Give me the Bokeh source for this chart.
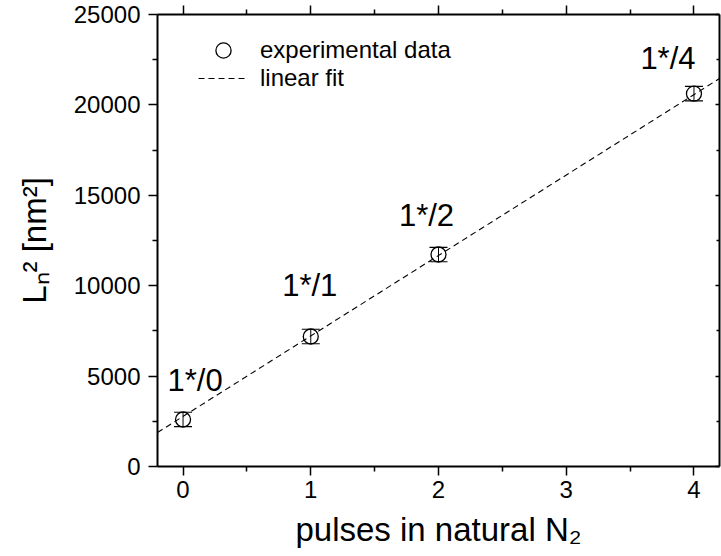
from bokeh.plotting import figure
from bokeh.models import (Range1d, LinearAxis, Whisker, ColumnDataSource, Label,
                          Legend, LegendItem, FixedTicker, TeeHead, CustomJSTickFormatter)
from bokeh.embed import file_html
from bokeh.resources import INLINE

# ---- data ----
pulses = [0, 1, 2, 4]
ln2 = [2600, 7190, 11725, 20620]
ln2_err = [400, 400, 400, 400]
point_labels = ["1*/0", "1*/1", "1*/2", "1*/4"]
fit_x = [-0.2, 4.2]
fit_y = [1880, 21460]
x_ticks = [0, 1, 2, 3, 4]
x_minor = [0.5, 1.5, 2.5, 3.5]
y_ticks = [0, 5000, 10000, 15000, 20000, 25000]
y_minor = [2500, 7500, 12500, 17500, 22500]
x_title = "pulses in natural N\u2082"
y_title = "L\u2099\u00b2 [nm\u00b2]"

FONT = "Liberation Sans"

p = figure(width=721, height=556, x_range=Range1d(-0.2, 4.2), y_range=Range1d(0, 25000),
           output_backend="svg", toolbar_location=None, x_axis_location=None, y_axis_location=None,
           min_border_left=157, min_border_right=2, min_border_top=14, min_border_bottom=90)
p.outline_line_color = None
p.xgrid.visible = False
p.ygrid.visible = False
p.background_fill_color = "white"
p.border_fill_color = "white"

xt = FixedTicker(ticks=x_ticks, minor_ticks=x_minor)
yt = FixedTicker(ticks=y_ticks, minor_ticks=y_minor)

def style(ax, labels=True, inward=False):
    ax.axis_line_width = 2
    ax.axis_line_color = "black"
    ax.major_tick_line_width = 1.5
    ax.minor_tick_line_width = 1.5
    ax.major_tick_line_color = "black"
    ax.minor_tick_line_color = "black"
    if inward:
        ax.major_tick_in, ax.major_tick_out = 4, 0
        ax.minor_tick_in, ax.minor_tick_out = 3, 0
    else:
        ax.major_tick_in, ax.major_tick_out = 0, 9
        ax.minor_tick_in, ax.minor_tick_out = 0, 5
    if labels:
        ax.major_label_text_font = FONT
        ax.major_label_text_font_size = "24px"
        ax.major_label_text_color = "black"
        ax.axis_label_text_font = FONT
        ax.axis_label_text_font_size = "33px"
        ax.axis_label_text_font_style = "normal"
        ax.axis_label_text_color = "black"
    else:
        ax.formatter = CustomJSTickFormatter(code="return ''")
        ax.major_label_standoff = 0

bx = LinearAxis(ticker=xt, axis_label=x_title); style(bx)
bx.major_label_standoff = 5
bx.axis_label_standoff = 10
lx = LinearAxis(ticker=yt, axis_label=y_title); style(lx)
lx.major_label_standoff = 8
lx.axis_label_standoff = 18
tx = LinearAxis(ticker=xt); style(tx, labels=False)
rx = LinearAxis(ticker=yt); style(rx, labels=False, inward=True)
p.add_layout(bx, "below")
p.add_layout(lx, "left")
p.add_layout(tx, "above")
p.add_layout(rx, "right")

# fit line
fit_r = p.line(fit_x, fit_y, line_color="black", line_width=1.1, line_dash="6 4")

# error bars
src = ColumnDataSource(dict(x=pulses, y=ln2,
                            lo=[v - e for v, e in zip(ln2, ln2_err)],
                            hi=[v + e for v, e in zip(ln2, ln2_err)]))
wh = Whisker(source=src, base="x", lower="lo", upper="hi", line_color="black", line_width=1,
             upper_head=TeeHead(size=18, line_color="black", line_width=1.2),
             lower_head=TeeHead(size=18, line_color="black", line_width=1.2))
p.add_layout(wh)

pts = p.scatter("x", "y", source=src, marker="circle", size=15, fill_color=None,
                line_color="black", line_width=1.3)

# point annotations
label_offsets = [(12, 39), (-1, 51), (-12, 39), (-26, 35)]
for xv, yv, t, (dx, dy) in zip(pulses, ln2, point_labels, label_offsets):
    p.add_layout(Label(x=xv, y=yv, text=t, x_offset=dx, y_offset=dy, text_align="center",
                       text_baseline="middle", text_font=FONT, text_font_size="31px",
                       text_color="black"))

# legend (two single-item legends for marker size control)
common = dict(glyph_width=50, label_standoff=12, spacing=0, padding=0, margin=0,
              border_line_color=None, background_fill_alpha=0,
              label_text_font=FONT, label_text_font_size="24px", label_text_color="black")
leg1 = Legend(items=[LegendItem(label="experimental data", renderers=[pts])],
              location=(41, 397), glyph_height=38, label_height=38, **common)
leg2 = Legend(items=[LegendItem(label="linear fit", renderers=[fit_r])],
              location=(41, 374), glyph_height=28, label_height=28, **common)
p.add_layout(leg1)
p.add_layout(leg2)

open("out.html", "w").write(file_html(p, INLINE))
